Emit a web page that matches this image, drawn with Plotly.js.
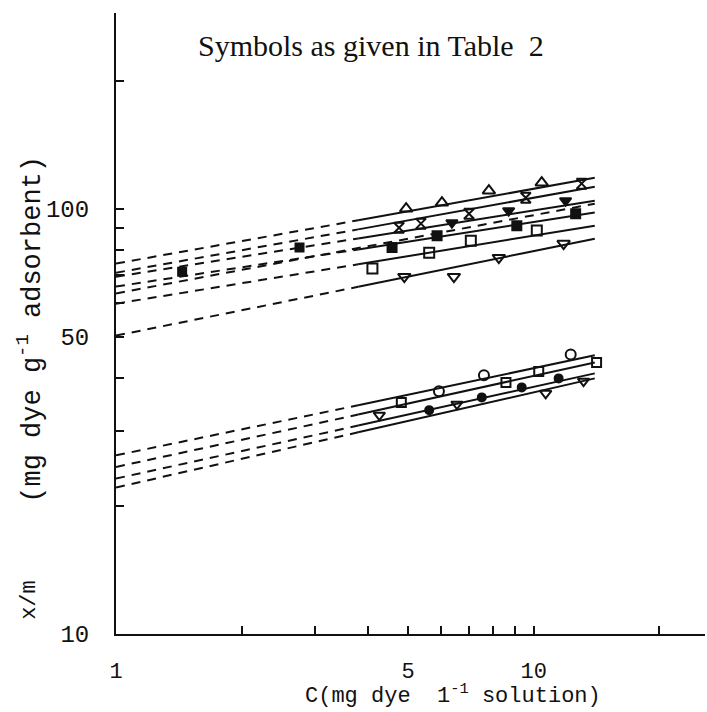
<!DOCTYPE html>
<html>
<head>
<meta charset="utf-8">
<script src="https://cdn.plot.ly/plotly-3.0.1.min.js"></script>
<style>html,body{margin:0;padding:0;background:#fff;}#chart{width:707px;height:712px;}</style>
</head>
<body>
<div id="chart"></div>
<script>
// Concentration positions used for the fitted lines (C = 1 .. break .. end)
const lineC = [1, 3.8, 14];

// Upper group fitted lines (x/m at C = 1, 3.8, 14)
const upA_line = [74.3, 93.9, 118.2];
const upB_line = [70.7, 89.4, 112.6];
const upC_line = [69.2, 85.1, 104.4];
const upD_line = [65.6, 80.2, 97.9];
const upG_line = [63.2, 80.7, 102.7];
const upE_line = [59.8, 74.0, 91.2];
const upF_line = [50.3, 65.5, 85.0];

// Lower group fitted lines
const loA_line = [26.3, 34.5, 45.2];
const loB_line = [24.7, 32.8, 43.5];
const loC_line = [23.2, 30.9, 41.0];
const loD_line = [22.1, 29.8, 39.9];

// Upper group data points
const upA_x = [4.95, 6.03, 7.81, 10.45];
const upA_y = [100.0, 103.3, 110.2, 115.1];
const upB_x = [4.76, 5.37, 7.0, 9.57, 13.02];
const upB_y = [90.2, 92.2, 97.3, 106.1, 114.5];
const upC_x = [6.37, 8.71, 11.92];
const upC_y = [92.7, 98.9, 104.4];
const upClow_x = [1.44, 2.75];
const upClow_y = [71.1, 81.0];
const upD_x = [4.58, 5.87, 9.11, 12.6];
const upD_y = [81.0, 86.4, 91.2, 97.3];
const upE_x = [4.11, 5.62, 7.07, 10.17];
const upE_y = [72.3, 78.8, 84.1, 88.8];
const upF_x = [4.90, 6.44, 8.25, 11.79];
const upF_y = [69.2, 69.2, 76.7, 82.8];

// Lower group data points
const loA_x = [5.93, 7.60, 12.26];
const loA_y = [37.2, 40.6, 45.4];
const loB_x = [4.82, 8.58, 10.28, 14.14];
const loB_y = [35.0, 39.0, 41.4, 43.5];
const loC_x = [5.62, 7.51, 9.36, 11.47];
const loC_y = [33.6, 36.0, 38.0, 39.9];
const loD_x = [4.27, 6.55, 10.68, 13.16];
const loD_y = [32.7, 34.7, 36.8, 39.3];

// Axis ticks
const xTickVals = [1, 2, 3, 4, 5, 6, 7, 8, 9, 10, 20];
const xTickText = ['1', '', '', '', '5', '', '', '', '', '10', ''];
const yTickVals = [10, 20, 30, 40, 50, 60, 70, 80, 90, 100, 200];
const yTickText = ['10', '', '', '', '50', '', '', '', '', '100', ''];

const BLACK = '#111';
const DASH = '9px,7px';
const traces = [];

function addLine(vals, allDashed) {
  if (allDashed) {
    traces.push({x: [lineC[0], lineC[2]], y: [vals[0], vals[2]], mode: 'lines',
      line: {color: BLACK, width: 2, dash: DASH}, showlegend: false, hoverinfo: 'skip'});
    return;
  }
  traces.push({x: lineC.slice(0, 2), y: vals.slice(0, 2), mode: 'lines',
    line: {color: BLACK, width: 2, dash: DASH}, showlegend: false, hoverinfo: 'skip'});
  traces.push({x: lineC.slice(1), y: vals.slice(1), mode: 'lines',
    line: {color: BLACK, width: 2}, showlegend: false, hoverinfo: 'skip'});
}
function addPts(xs, ys, symbol, size) {
  traces.push({x: xs, y: ys, mode: 'markers', showlegend: false,
    marker: {symbol: symbol, size: size || 10, color: BLACK, line: {color: BLACK, width: 2}}});
}

[upA_line, upB_line, upC_line, upD_line, upE_line, upF_line,
 loA_line, loB_line, loC_line, loD_line].forEach(v => addLine(v, false));
addLine(upG_line, true);

addPts(upA_x, upA_y, 'triangle-up-open', 11);
addPts(upB_x, upB_y, 'hourglass-open', 10);
addPts(upC_x, upC_y, 'triangle-down', 10);
addPts(upClow_x, upClow_y, 'square', 8);
addPts(upD_x, upD_y, 'square', 9);
addPts(upE_x, upE_y, 'square-open', 10);
addPts(upF_x, upF_y, 'triangle-down-open', 11);
addPts(loA_x, loA_y, 'circle-open', 10);
addPts(loB_x, loB_y, 'square-open', 9);
addPts(loC_x, loC_y, 'circle', 8);
addPts(loD_x, loD_y, 'triangle-down-open', 10);

const MONO = 'Liberation Mono, Courier New, monospace';
const layout = {
  width: 707, height: 712,
  margin: {l: 116, r: 2, t: 13, b: 78},
  paper_bgcolor: '#fff', plot_bgcolor: '#fff',
  showlegend: false,
  xaxis: {
    type: 'log', range: [0, 1.41],
    showgrid: false, zeroline: false,
    showline: true, linecolor: BLACK, linewidth: 2,
    ticks: 'inside', ticklen: 8, tickwidth: 2, tickcolor: BLACK,
    tickmode: 'array', tickvals: xTickVals, ticktext: xTickText,
    tickfont: {family: MONO, size: 22, color: BLACK},
    ticklabelstandoff: 16
  },
  yaxis: {
    type: 'log', range: [1, 2.46],
    showgrid: false, zeroline: false,
    showline: true, linecolor: BLACK, linewidth: 2,
    ticks: 'inside', ticklen: 8, tickwidth: 2, tickcolor: BLACK,
    tickmode: 'array', tickvals: yTickVals, ticktext: yTickText,
    tickfont: {family: MONO, size: 24, color: BLACK},
    ticklabelstandoff: 20
  },
  annotations: [
    {text: 'Symbols as given in Table  2', xref: 'paper', yref: 'paper',
     x: 0.433, y: 0.947, showarrow: false, xanchor: 'center', yanchor: 'middle',
     font: {family: 'Liberation Serif, Times New Roman, serif', size: 30, color: BLACK}},
    {text: 'C(mg dye  1<sup>-1</sup> solution)', xref: 'paper', yref: 'paper',
     x: 0.572, y: -0.124, showarrow: false, xanchor: 'center', yanchor: 'bottom',
     font: {family: MONO, size: 22, color: BLACK}},
    {text: '(mg dye g<sup>-1</sup> adsorbent)', xref: 'paper', yref: 'paper',
     x: -0.146, y: 0.49, showarrow: false, xanchor: 'center', yanchor: 'middle',
     textangle: -90, font: {family: MONO, size: 27, color: BLACK}},
    {text: 'x/m', xref: 'paper', yref: 'paper',
     x: -0.146, y: 0.055, showarrow: false, xanchor: 'center', yanchor: 'middle',
     textangle: -90, font: {family: MONO, size: 22, color: BLACK}}
  ]
};

Plotly.newPlot('chart', traces, layout, {displayModeBar: false, staticPlot: true});
</script>
</body>
</html>
